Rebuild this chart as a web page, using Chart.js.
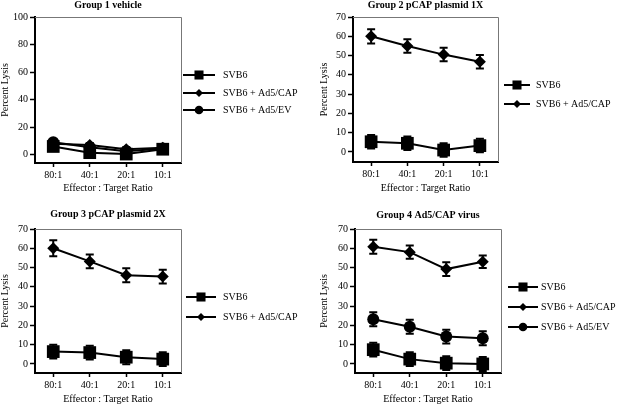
<!DOCTYPE html>
<html>
<head>
<meta charset="utf-8">
<script src="https://cdn.jsdelivr.net/npm/chart.js@4.4.0/dist/chart.umd.min.js"></script>
<style>
  body { margin: 0; background: #fff; }
  #wrap { position: relative; width: 621px; height: 405px; }
  canvas { position: absolute; }
</style>
</head>
<body>
<div id="wrap">
  <canvas id="c1" width="310" height="200" style="left:0;top:0"></canvas>
  <canvas id="c2" width="311" height="200" style="left:310px;top:0"></canvas>
  <canvas id="c3" width="310" height="205" style="left:0;top:200px"></canvas>
  <canvas id="c4" width="311" height="205" style="left:310px;top:200px"></canvas>
</div>
<script>
// data
const ratios = ["80:1", "40:1", "20:1", "10:1"];
const seriesNames = ["SVB6", "SVB6 + Ad5/CAP", "SVB6 + Ad5/EV"];
const titles = ["Group 1 vehicle", "Group 2 pCAP plasmid 1X", "Group 3 pCAP plasmid 2X", "Group 4 Ad5/CAP virus"];

const g1Ticks = [0, 20, 40, 60, 80, 100];
const lysisTicks = [0, 10, 20, 30, 40, 50, 60, 70];

// group 1 vehicle
const g1Svb6 = [6, 1.5, 0.5, 4];
const g1Cap = [8, 7, 4, 5];
const g1Ev = [9, 5.5, 2.5, 4.5];
const g1Err = [1.5, 1.5, 1.5, 1.5];

// group 2 pCAP plasmid 1X
const g2Svb6 = [5.3, 4.5, 1, 3.3];
const g2Svb6Err = [3.5, 3.5, 3.5, 3.5];
const g2Cap = [60, 55, 50.5, 46.8];
const g2CapErr = [3.7, 3.5, 3.5, 3.5];

// group 3 pCAP plasmid 2X
const g3Svb6 = [6.4, 5.9, 3.5, 2.5];
const g3Svb6Err = [3.6, 3.6, 3.6, 3.6];
const g3Cap = [60, 53.2, 46, 45.3];
const g3CapErr = [4.2, 3.6, 3.6, 3.6];

// group 4 Ad5/CAP virus
const g4Svb6 = [7.4, 2.5, 0.4, 0];
const g4Svb6Err = [3.6, 3.6, 3.6, 3.6];
const g4Cap = [60.8, 58, 49.2, 53];
const g4CapErr = [3.6, 3.4, 3.6, 3.2];
const g4Ev = [23.2, 19.3, 14.2, 13.3];
const g4EvErr = [3.6, 3.6, 3.6, 3.6];

const FONT = "'Liberation Serif', 'Times New Roman', serif";

// marker shapes for each series (plot radius, legend radius)
const styles = [
  { pointStyle: "rect", radius: 9, legendRadius: 6.4 },
  { pointStyle: "rectRot", radius: 6, legendRadius: 4 },
  { pointStyle: "circle", radius: 6, legendRadius: 4.3 }
];

function series(i, values, err) {
  return {
    label: seriesNames[i],
    data: values,
    err: err,
    borderColor: "#000",
    backgroundColor: "#000",
    borderWidth: 2,
    pointStyle: styles[i].pointStyle,
    pointRadius: styles[i].radius,
    pointBorderWidth: 0,
    tension: 0
  };
}

// error bars drawn under the lines/markers
const errorBars = {
  id: "errorBars",
  beforeDatasetsDraw(chart) {
    const ctx = chart.ctx;
    const y = chart.scales.y;
    chart.data.datasets.forEach((ds, i) => {
      if (!ds.err) return;
      const meta = chart.getDatasetMeta(i);
      ctx.save();
      ctx.strokeStyle = "#000";
      ctx.lineWidth = 2;
      meta.data.forEach((pt, j) => {
        const top = y.getPixelForValue(ds.data[j] + ds.err[j]);
        const bot = y.getPixelForValue(ds.data[j] - ds.err[j]);
        ctx.beginPath();
        ctx.moveTo(pt.x, top); ctx.lineTo(pt.x, bot);
        ctx.moveTo(pt.x - 4, top); ctx.lineTo(pt.x + 4, top);
        ctx.moveTo(pt.x - 4, bot); ctx.lineTo(pt.x + 4, bot);
        ctx.stroke();
      });
      ctx.restore();
    });
  }
};

// title, frame and legend for each panel
const panelDecor = {
  id: "panelDecor",
  afterDraw(chart, args, o) {
    const ctx = chart.ctx;
    const a = chart.chartArea;
    ctx.save();
    // thin gray top and right edges of the box
    ctx.strokeStyle = "#777";
    ctx.lineWidth = 1;
    ctx.beginPath();
    ctx.moveTo(a.left, a.top + 0.5);
    ctx.lineTo(a.right + 0.5, a.top + 0.5);
    ctx.lineTo(a.right + 0.5, a.bottom);
    ctx.stroke();

    ctx.fillStyle = "#000";
    ctx.font = "bold 10px " + FONT;
    ctx.textAlign = "center";
    ctx.textBaseline = "middle";
    ctx.fillText(o.title, (a.left + a.right) / 2, o.titleY);

    ctx.font = "10px " + FONT;
    ctx.textAlign = "left";
    chart.data.datasets.forEach((ds, i) => {
      const ly = o.rows[i];
      const x0 = o.x0;
      ctx.strokeStyle = "#000";
      ctx.lineWidth = 2;
      ctx.beginPath();
      ctx.moveTo(x0, ly);
      ctx.lineTo(x0 + o.len, ly);
      ctx.stroke();
      ctx.fillStyle = "#000";
      const st = styles.find(s => s.pointStyle === ds.pointStyle);
      Chart.helpers.drawPoint(ctx, { pointStyle: st.pointStyle, radius: st.legendRadius, rotation: 0, borderWidth: 0 }, x0 + o.len / 2, ly);
      ctx.fillText(ds.label, x0 + o.text, ly + 0.5);
    });
    ctx.restore();
  }
};

function makeChart(id, p) {
  return new Chart(document.getElementById(id), {
    type: "line",
    data: { labels: ratios, datasets: p.datasets },
    options: {
      responsive: false,
      animation: false,
      events: [],
      layout: { padding: { left: 0, top: p.top, right: p.right, bottom: 0 } },
      plugins: {
        legend: { display: false },
        tooltip: { enabled: false },
        panelDecor: p.decor
      },
      scales: {
        x: {
          offset: true,
          grid: { drawOnChartArea: false, drawTicks: true, tickLength: 4, tickColor: "#000", tickWidth: 1.5 },
          border: { color: "#000", width: 2 },
          ticks: { color: "#000", font: { family: FONT, size: 10 }, padding: 2, maxRotation: 0 },
          title: { display: true, text: "Effector : Target Ratio", color: "#000",
                   font: { family: FONT, size: 10, lineHeight: 1 }, padding: { top: 0, bottom: p.xTitlePad } },
          afterFit: s => { s.height = p.xh; }
        },
        y: {
          min: p.min,
          max: p.max,
          afterBuildTicks: s => { s.ticks = p.ticks.map(v => ({ value: v })); },
          grid: { drawOnChartArea: false, drawTicks: true, tickLength: 5, tickColor: "#000", tickWidth: 1.5 },
          border: { color: "#000", width: 2 },
          ticks: { color: "#000", font: { family: FONT, size: 10 }, padding: 2 },
          title: { display: true, text: "Percent Lysis", color: "#000",
                   font: { family: FONT, size: 10, lineHeight: 1 }, padding: { top: p.yTitlePad, bottom: 0 } },
          afterFit: s => { s.width = p.yw; }
        }
      }
    },
    plugins: [errorBars, panelDecor]
  });
}

makeChart("c1", {
  datasets: [series(0, g1Svb6, g1Err), series(1, g1Cap, g1Err), series(2, g1Ev, g1Err)],
  top: 17, right: 129, yw: 35, xh: 37, min: -6, max: 100, ticks: g1Ticks,
  xTitlePad: 7, yTitlePad: 0,
  decor: { title: titles[0], titleY: 5, x0: 183, len: 32, text: 40, rows: [75, 93, 110] }
});

makeChart("c2", {
  datasets: [series(0, g2Svb6, g2Svb6Err), series(1, g2Cap, g2CapErr)],
  top: 17, right: 123, yw: 43, xh: 38, min: -5.2, max: 70, ticks: lysisTicks,
  xTitlePad: 7, yTitlePad: 9,
  decor: { title: titles[1], titleY: 5, x0: 194, len: 26, text: 32, rows: [85, 104] }
});

makeChart("c3", {
  datasets: [series(0, g3Svb6, g3Svb6Err), series(1, g3Cap, g3CapErr)],
  top: 29, right: 129, yw: 35, xh: 32, min: -4.7, max: 70, ticks: lysisTicks,
  xTitlePad: 1, yTitlePad: 0.5,
  decor: { title: titles[2], titleY: 14.5, x0: 186, len: 30, text: 37, rows: [97, 117] }
});

makeChart("c4", {
  datasets: [series(0, g4Svb6, g4Svb6Err), series(1, g4Cap, g4CapErr), series(2, g4Ev, g4EvErr)],
  top: 29, right: 120, yw: 45, xh: 32, min: -4.7, max: 70, ticks: lysisTicks,
  xTitlePad: 1, yTitlePad: 9,
  decor: { title: titles[3], titleY: 15, x0: 198, len: 30, text: 33, rows: [87, 107, 127] }
});
</script>
</body>
</html>
